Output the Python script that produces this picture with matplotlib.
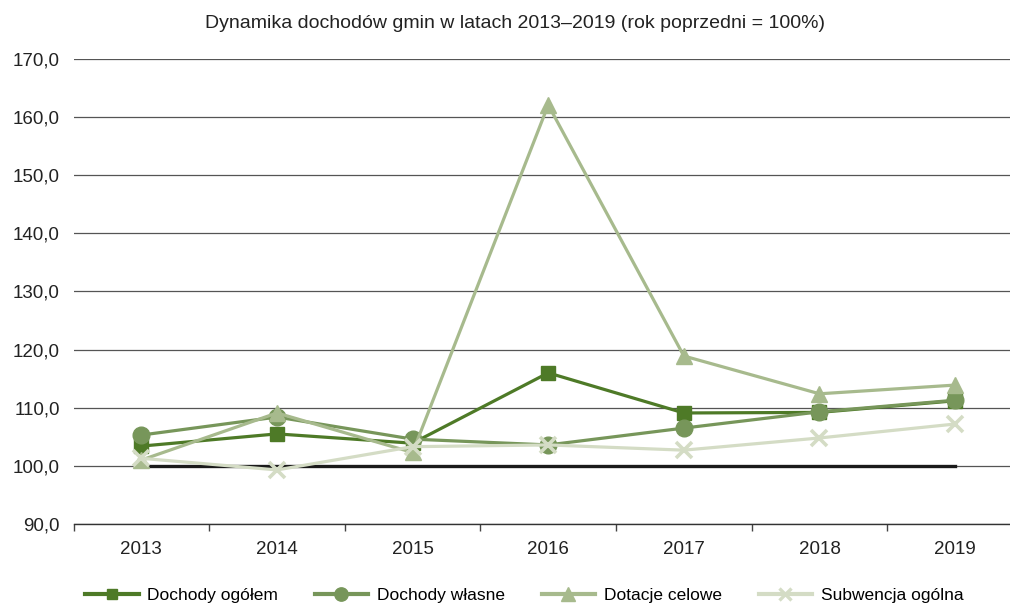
import matplotlib
matplotlib.use('Agg')
import matplotlib.pyplot as plt
from matplotlib.lines import Line2D

plt.rcParams['font.family'] = ['Liberation Sans', 'DejaVu Sans']

# dane
lata = ['2013', '2014', '2015', '2016', '2017', '2018', '2019']
dochody_ogolem = [103.4, 105.5, 103.9, 116.0, 109.1, 109.2, 111.2]
dochody_wlasne = [105.3, 108.4, 104.6, 103.6, 106.5, 109.3, 111.3]
dotacje_celowe = [101.0, 109.1, 102.3, 162.1, 118.9, 112.4, 113.9]
subwencja_ogolna = [101.3, 99.3, 103.3, 103.6, 102.7, 104.8, 107.2]
poziom_bazowy = [100.0] * len(lata)

serie = [
    ('Dochody ogółem', dochody_ogolem, '#4e7a27', 's', 9.5),
    ('Dochody własne', dochody_wlasne, '#77965a', 'o', 12),
    ('Dotacje celowe', dotacje_celowe, '#a7ba8d', '^', 12),
    ('Subwencja ogólna', subwencja_ogolna, '#d4dcc5', 'x', 11),
]

fig = plt.figure(figsize=(10.1, 6.09), dpi=100)
ax = fig.add_axes([0.0728, 0.1396, 0.940, 0.7635])

x = range(len(lata))
ax.plot(x, poziom_bazowy, color='#1a1a1a', lw=2.4, zorder=2)

for nazwa, wartosci, kolor, znacznik, rozmiar in serie:
    ax.plot(x, wartosci, color=kolor, lw=2.3, marker=znacznik, ms=rozmiar,
            mew=2.6 if znacznik == 'x' else 1, mec=kolor, mfc=kolor, label=nazwa, zorder=3)

ax.set_xlim(-0.5, 6.5)
ax.set_ylim(90, 170)
ax.set_yticks(range(90, 171, 10))
ax.set_yticklabels([f'{v},0' for v in range(90, 171, 10)])
ax.set_xticks(list(x))
ax.set_xticklabels(lata)
ax.set_xticks([i + 0.5 for i in range(-1, 7)], minor=True)
ax.tick_params(axis='x', which='major', length=0, pad=12, labelsize=13.5, colors='#222222')
ax.tick_params(axis='x', which='minor', length=5, color='#444444', width=1)
ax.tick_params(axis='y', length=0, pad=10, labelsize=13.5, colors='#222222')

ax.grid(axis='y', color='#555555', lw=0.9)
ax.set_axisbelow(True)
for s in ['top', 'right', 'left']:
    ax.spines[s].set_visible(False)
ax.spines['bottom'].set_color('#333333')
ax.spines['bottom'].set_linewidth(1.0)

fig.text(0.51, 0.962, 'Dynamika dochodów gmin w latach 2013–2019 (rok poprzedni = 100%)',
         ha='center', va='center', fontsize=14, color='#222222')

uchwyty = [Line2D([], [], color=k, lw=3, marker=m, ms=r * 0.8, mew=2.4 if m == 'x' else 1,
                  mec=k, mfc=k) for _, _, k, m, r in serie]
fig.legend(uchwyty, [s[0] for s in serie], loc='center', bbox_to_anchor=(0.519, 0.022),
           ncol=4, frameon=False, fontsize=12.5, handlelength=3.1, columnspacing=2.1,
           handletextpad=0.5, borderpad=0.2)

fig.savefig('out.png', dpi=100)
